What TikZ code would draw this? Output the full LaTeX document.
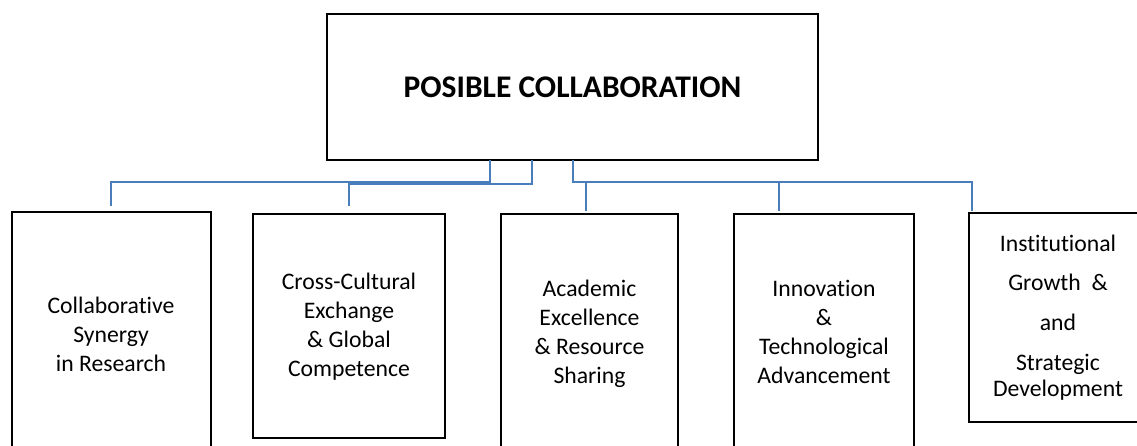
\documentclass[tikz,border=0pt]{standalone}
\usepackage{fontspec}
\setmainfont[Ligatures=NoCommon]{Carlito}
\definecolor{connblue}{RGB}{74,126,187}
\begin{document}
\begin{tikzpicture}[x=1pt,y=-1pt,
  box/.style={draw=black,line width=2.6pt,rectangle,inner sep=0pt,outer sep=0pt},
  label text/.style={align=center,font=\fontsize{23.7}{29}\selectfont,inner sep=0pt},
  conn/.style={draw=connblue,line width=2pt}]
\useasboundingbox (0,0) rectangle (1137,446);
\clip (0,0) rectangle (1137,446);
\fill[white] (0,0) rectangle (1137,446);
% main box
\node[box,minimum width=491pt,minimum height=146pt,font=\fontsize{31.5}{38}\selectfont\bfseries] (main) at (572.5,87) {POSIBLE COLLABORATION};
% child boxes
\node[box,minimum width=199pt,minimum height=268pt] (b1) at (111.5,346) {};
\node[box,minimum width=192pt,minimum height=224pt] (b2) at (349,326) {};
\node[box,minimum width=177pt,minimum height=266pt] (b3) at (589.5,347) {};
\node[box,minimum width=180pt,minimum height=266pt] (b4) at (824,347) {};
\node[box,minimum width=194pt,minimum height=209pt] (b5) at (1066,317.5) {};
% texts
\node[label text] (t1) at (111,334) {Collaborative\\Synergy\\in Research};
\node[label text] (t2) at (349,327) {Cross-Cultural\\Exchange\\\& Global\\Competence};
\node[label text] (t3) at (589.5,334) {Academic\\Excellence\\\& Resource\\Sharing};
\node[label text] (t4) at (824,332) {Innovation\\\&\\Technological\\Advancement};
\node[label text] (t5) at (1058,318) {Institutional\\[10pt]Growth~~\&\\[11pt]and\\[11pt]Strategic\\[-3pt]Development};
% connector end points
\coordinate (e1) at (111,206);
\coordinate (e2) at (349,206);
\coordinate (e3) at (586,211);
\coordinate (e4) at (779,211);
\coordinate (e5) at (972,211);
\coordinate (busA) at (0,182.5);
\coordinate (busB) at (0,184);
% connectors
\draw[conn] ([xshift=-82.5pt]main.south) |- (busA -| e1) -- (e1);
\draw[conn] ([xshift=-40.5pt]main.south) |- (busB -| e2) -- (e2);
\draw[conn] (main.south) |- (busA -| e5) -- (e5);
\draw[conn] (busA -| e3) -- (e3);
\draw[conn] (busA -| e4) -- (e4);
\end{tikzpicture}
\end{document}
